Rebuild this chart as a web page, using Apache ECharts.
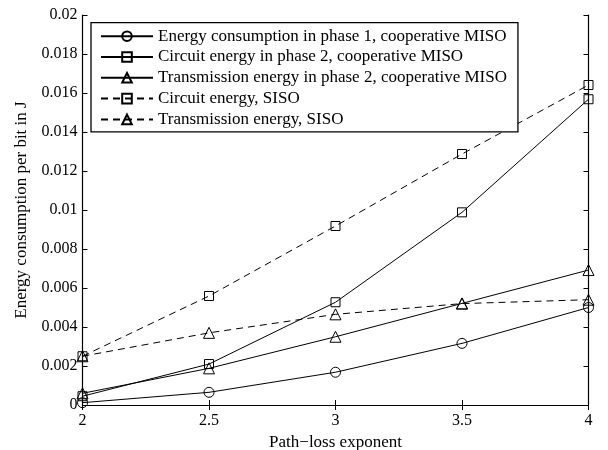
<!DOCTYPE html>
<html>
<head>
<meta charset="utf-8">
<script src="https://cdn.jsdelivr.net/npm/echarts@6/dist/echarts.min.js"></script>
<style>html,body{margin:0;padding:0;background:#fff;}#c{width:608px;height:450px;}</style>
</head>
<body>
<div id="c"></div>
<script>
const xValues = [2, 2.5, 3, 3.5, 4];
const phase1MISO = [0.00012, 0.00065, 0.00168, 0.00316, 0.00500];
const circuitMISO = [0.00045, 0.0021, 0.00527, 0.00988, 0.01568];
const transMISO = [0.0006, 0.00188, 0.0035, 0.00521, 0.00692];
const circuitSISO = [0.0025, 0.00559, 0.00918, 0.01287, 0.01641];
const transSISO = [0.0025, 0.0037, 0.00465, 0.0052, 0.0054];
const seriesNames = [
  'Energy consumption in phase 1, cooperative MISO',
  'Circuit energy in phase 2, cooperative MISO',
  'Transmission energy in phase 2, cooperative MISO',
  'Circuit energy, SISO',
  'Transmission energy, SISO'
];
const xLabel = 'Path\u2212loss exponent';
const yLabel = 'Energy consumption per bit in J';

const FONT = 'Liberation Serif';
const chart = echarts.init(document.getElementById('c'));
function pairs(ys) { return xValues.map((x, i) => [x, ys[i]]); }
function mk(name, ys, symbol, dashed, size) {
  return {
    name: name, type: 'line', data: pairs(ys), symbol: symbol, symbolSize: size,
    clip: false, showAllSymbol: true,
    lineStyle: { color: '#000', width: 1, type: dashed ? [7, 5] : 'solid' },
    itemStyle: { color: 'transparent', borderColor: '#000', borderWidth: 1 },
    emphasis: { disabled: true }, animation: false
  };
}
const axisCommon = {
  axisLine: { show: true, lineStyle: { color: '#000', width: 1.2 } },
  axisTick: { show: true, inside: true, length: 5, lineStyle: { color: '#000' } },
  splitLine: { show: false }
};
chart.setOption({
  backgroundColor: '#fff',
  animation: false,
  textStyle: { fontFamily: FONT, color: '#000' },
  grid: { left: 82.5, right: 19.5, top: 15, bottom: 45, containLabel: false, outerBoundsMode: 'none' },
  legend: {
    orient: 'vertical', left: 91, top: 22.7,
    padding: [5, 11, 4, 9], itemGap: 3.8, itemWidth: 52, itemHeight: 12,
    borderColor: '#000', borderWidth: 1.3, backgroundColor: '#fff',
    textStyle: { fontFamily: FONT, fontSize: 17, color: '#000', lineHeight: 17 },
    data: seriesNames
  },
  xAxis: [
    Object.assign({ type: 'value', min: 2, max: 4, interval: 0.5, position: 'bottom',
      name: xLabel, nameLocation: 'middle', nameGap: 28,
      nameTextStyle: { fontFamily: FONT, fontSize: 17, color: '#000' },
      axisLabel: { fontFamily: FONT, fontSize: 16, color: '#000', margin: 8 } }, axisCommon),
    Object.assign({ type: 'value', min: 2, max: 4, interval: 0.5, position: 'top',
      axisLabel: { show: false } }, axisCommon)
  ],
  yAxis: [
    Object.assign({ type: 'value', min: 0, max: 0.02, interval: 0.002, position: 'left',
      name: yLabel, nameLocation: 'middle', nameGap: 52, nameRotate: 90,
      nameTextStyle: { fontFamily: FONT, fontSize: 17, color: '#000' },
      axisLabel: { fontFamily: FONT, fontSize: 16, color: '#000', margin: 5,
        formatter: v => String(parseFloat(v.toFixed(4))) } }, axisCommon),
    Object.assign({ type: 'value', min: 0, max: 0.02, interval: 0.002, position: 'right',
      axisLabel: { show: false } }, axisCommon)
  ],
  series: [
    mk(seriesNames[0], phase1MISO, 'circle', false, 10),
    mk(seriesNames[1], circuitMISO, 'rect', false, 9),
    mk(seriesNames[2], transMISO, 'triangle', false, 11),
    mk(seriesNames[3], circuitSISO, 'rect', true, 9),
    mk(seriesNames[4], transSISO, 'triangle', true, 11)
  ]
});
</script>
</body>
</html>
